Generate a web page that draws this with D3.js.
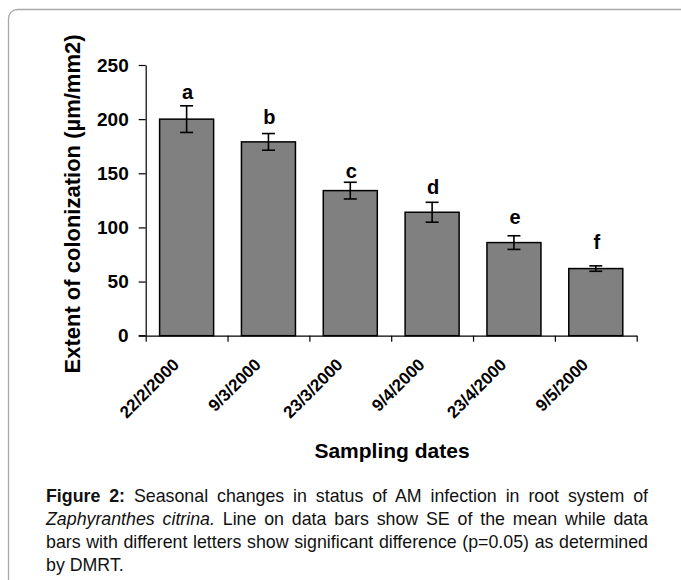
<!DOCTYPE html>
<html>
<head>
<meta charset="utf-8">
<script src="https://cdn.jsdelivr.net/npm/d3@7/dist/d3.min.js"></script>
<style>
  html, body { margin: 0; padding: 0; background: #fff; }
  #wrap { position: relative; width: 681px; height: 580px; overflow: hidden; }
  svg { position: absolute; left: 0; top: 0; }
  #caption { position: absolute; left: 46px; top: 485px; width: 602px;
    font-family: "Liberation Sans", Arial, sans-serif; font-size: 17.8px; line-height: 23px; color: #111; }
  #caption .ln { text-align: justify; text-align-last: justify; white-space: nowrap; }
  #caption .last { text-align: left; }
</style>
</head>
<body>
<div id="wrap">
<svg id="chart" width="681" height="580"></svg>
<div id="caption">
  <div class="ln"><b>Figure 2:</b> Seasonal changes in status of AM infection in root system of</div>
  <div class="ln"><i>Zaphyranthes citrina.</i> Line on data bars show SE of the mean while data</div>
  <div class="ln">bars with different letters show significant difference (p=0.05) as determined</div>
  <div class="last">by DMRT.</div>
</div>
</div>
<script>
const categories = ["22/2/2000", "9/3/2000", "23/3/2000", "9/4/2000", "23/4/2000", "9/5/2000"];
const values = [200, 179, 134, 114, 86, 62];
const se = [12.3, 7.7, 7.7, 9.2, 6.3, 2.5];
const letters = ["a", "b", "c", "d", "e", "f"];
const letterAt = [219, 195.5, 145.3, 130.8, 103.1, 80];
const yTicks = [0, 50, 100, 150, 200, 250];

(function () {
const svg = d3.select("#chart");
const font = '"Liberation Sans", Arial, sans-serif';

// frame
svg.append("rect").attr("x", 8.5).attr("y", 9.5).attr("width", 720).attr("height", 620)
  .attr("rx", 9).attr("fill", "none").attr("stroke", "#a8a8a8").attr("stroke-width", 1.3);

const pLeft = 145.7, pRight = 636.7, pTop = 65, pBottom = 335.7;
const y = d3.scaleLinear().domain([0, 250]).range([pBottom, pTop]);
const x = d3.scaleBand().domain(categories).range([pLeft, pRight]).paddingInner(0.34).paddingOuter(0.17);
const xb = d3.scaleLinear().domain([0, categories.length]).range([pLeft, pRight]);

// y axis
const ya = svg.append("g").attr("transform", `translate(${pLeft},0)`)
  .call(d3.axisLeft(y).tickValues(yTicks).tickSize(7).tickSizeOuter(0).tickPadding(10));
ya.selectAll("path, line").attr("stroke", "#000").attr("stroke-width", 1.2);
ya.selectAll("text").attr("font-family", font).attr("font-weight", "bold").attr("font-size", 19).attr("fill", "#000");

// bars
svg.append("g").selectAll("rect").data(values).join("rect")
  .attr("x", (d, i) => x(categories[i]))
  .attr("y", d => y(d))
  .attr("width", x.bandwidth())
  .attr("height", d => y(0) - y(d))
  .attr("fill", "#808080").attr("stroke", "#000").attr("stroke-width", 1.5);

// x axis (ticks between categories)
const xa = svg.append("g").attr("transform", `translate(0,${pBottom})`)
  .call(d3.axisBottom(xb).tickValues(d3.range(categories.length + 1)).tickSize(6).tickSizeOuter(0).tickFormat(""));
xa.selectAll("path, line").attr("stroke", "#000").attr("stroke-width", 1.2);
svg.append("line").attr("x1", pLeft - 7).attr("x2", pLeft).attr("y1", pBottom).attr("y2", pBottom)
  .attr("stroke", "#000").attr("stroke-width", 1.2);

// error bars
const cap = 6.5;
const eg = svg.append("g").attr("stroke", "#000").attr("stroke-width", 1.6);
values.forEach((v, i) => {
  const cx = x(categories[i]) + x.bandwidth() / 2;
  eg.append("line").attr("x1", cx).attr("x2", cx).attr("y1", y(v + se[i])).attr("y2", y(v - se[i]));
  eg.append("line").attr("x1", cx - cap).attr("x2", cx + cap).attr("y1", y(v + se[i])).attr("y2", y(v + se[i]));
  eg.append("line").attr("x1", cx - cap).attr("x2", cx + cap).attr("y1", y(v - se[i])).attr("y2", y(v - se[i]));
});

// letters
svg.append("g").selectAll("text").data(letters).join("text")
  .attr("x", (d, i) => x(categories[i]) + x.bandwidth() / 2 + 1)
  .attr("y", (d, i) => y(letterAt[i]))
  .attr("text-anchor", "middle").attr("font-family", font).attr("font-weight", "bold")
  .attr("font-size", 20).attr("fill", "#000").text(d => d);

// category labels
svg.append("g").selectAll("text").data(categories).join("text")
  .attr("transform", d => `translate(${x(d) + x.bandwidth() / 2 - 6.5},${pBottom + 30}) rotate(-45)`)
  .attr("text-anchor", "end").attr("font-family", font).attr("font-weight", "bold")
  .attr("font-size", 17).attr("fill", "#000").text(d => d);

// axis titles
svg.append("text").attr("x", 392).attr("y", 458).attr("text-anchor", "middle")
  .attr("font-family", font).attr("font-weight", "bold").attr("font-size", 21).attr("fill", "#000")
  .text("Sampling dates");
svg.append("text").attr("transform", "translate(79.5,204) rotate(-90)").attr("text-anchor", "middle")
  .attr("font-family", font).attr("font-weight", "bold").attr("font-size", 22).attr("fill", "#000")
  .text("Extent of colonization (µm/mm2)");
})();
</script>
</body>
</html>
